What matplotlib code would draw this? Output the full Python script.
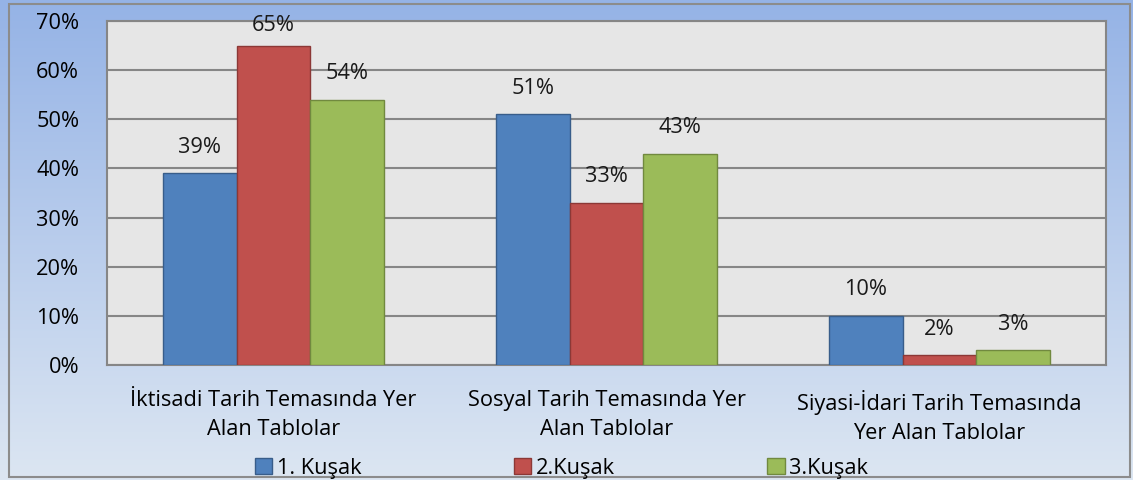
import numpy as np
import matplotlib.pyplot as plt
from matplotlib.patches import Rectangle

plt.rcParams['font.family'] = ['Open Sans', 'DejaVu Sans']

categories = ["İktisadi Tarih Temasında Yer\nAlan Tablolar",
              "Sosyal Tarih Temasında Yer\nAlan Tablolar",
              "Siyasi-İdari Tarih Temasında\nYer Alan Tablolar"]
series_names = ["1. Kuşak", "2.Kuşak", "3.Kuşak"]
kusak1 = [39, 51, 10]
kusak2 = [65, 33, 2]
kusak3 = [54, 43, 3]
yticks = [0, 10, 20, 30, 40, 50, 60, 70]

colors = ["#4F81BD", "#C0504D", "#9BBB59"]
edges = ["#385D8A", "#8C3836", "#71893F"]
fs = 15.7

W, H = 1133, 480
fig = plt.figure(figsize=(W / 100, H / 100), dpi=100)

# gradient background, blue at top, pale at bottom
bg = fig.add_axes([0, 0, 1, 1], zorder=-10)
grad = np.linspace(0, 1, 256).reshape(-1, 1)
top = np.array([0x95, 0xB3, 0xE6]) / 255
bot = np.array([0xDC, 0xE6, 0xF2]) / 255
img = top[None, None, :] * (1 - grad[..., None]) + bot[None, None, :] * grad[..., None]
bg.imshow(img, aspect='auto', extent=[0, 1, 0, 1], origin='upper')
bg.set_xlim(0, 1)
bg.set_ylim(0, 1)
bg.axis('off')
x0, y0 = 9 / W, 3 / H
bg.add_patch(Rectangle((x0, y0), 1 - x0 - 3 / W, 1 - y0 - 4 / H, fill=False,
                       edgecolor="#8C8C8C", lw=1.5, transform=bg.transAxes))

left, right, topy, boty = 107, 1106, 21, 365
ax = fig.add_axes([left / W, 1 - boty / H, (right - left) / W, (boty - topy) / H])
ax.set_facecolor("#E6E6E6")

x = np.arange(len(categories))
w = 0.222
data = [kusak1, kusak2, kusak3]
for i, vals in enumerate(data):
    bars = ax.bar(x + (i - 1) * w, vals, w, color=colors[i], edgecolor=edges[i],
                  lw=1, label=series_names[i], zorder=3)
    for b, v in zip(bars, vals):
        ax.text(b.get_x() + b.get_width() / 2, min(v + 5.3, 69), f"{v}%",
                ha='center', va='center', fontsize=fs, color="#1a1a1a")

ax.set_xlim(-0.5, 2.5)
ax.set_ylim(0, 70)
ax.set_yticks(yticks)
ax.set_yticklabels([f"{t}%" for t in yticks], fontsize=fs)
ax.yaxis.grid(True, color="#868686", lw=1.5, zorder=1)
ax.set_xticks(x)
ax.set_xticklabels(categories, fontsize=fs, linespacing=1.5)
ax.tick_params(length=0)
ax.tick_params(axis='x', pad=18)
ax.tick_params(axis='y', pad=20)
for s in ax.spines.values():
    s.set_color("#868686")
    s.set_linewidth(1.5)

ax.legend(loc='center', bbox_to_anchor=(0.455, -0.30), ncol=3, frameon=False,
          fontsize=fs, handlelength=0.8, handleheight=0.8, handletextpad=0.2,
          columnspacing=7.0, borderaxespad=0)

fig.savefig("out.png", dpi=100)
